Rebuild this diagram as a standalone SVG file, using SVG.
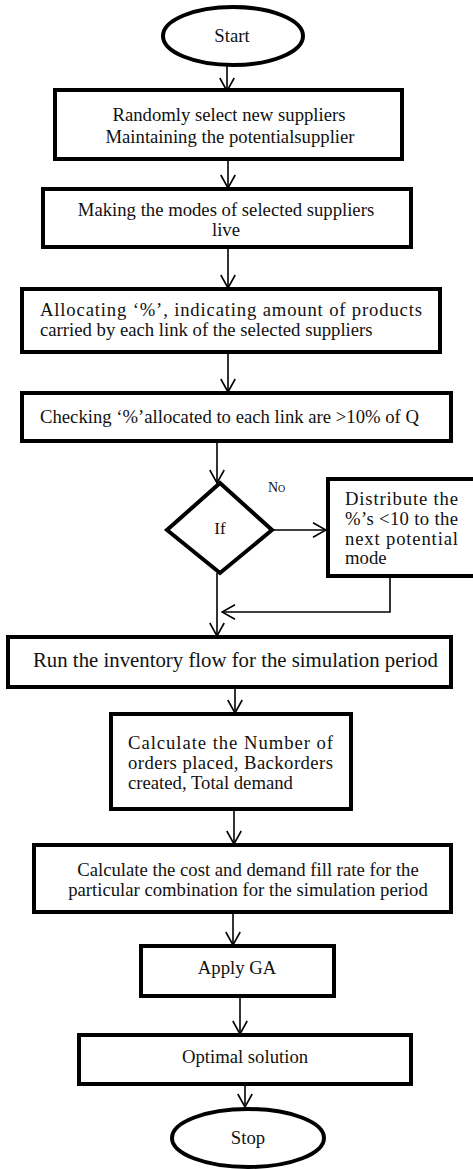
<svg xmlns="http://www.w3.org/2000/svg" width="473" height="1169" viewBox="0 0 473 1169">
<defs>
<style>
.box{fill:#fff;stroke:#000;stroke-width:4}
.t{font-family:"Liberation Serif","Times New Roman",serif;font-size:18.7px;fill:#111}
.m{text-anchor:middle}
.c{fill:none;stroke:#000;stroke-width:1.6}
</style>
<marker id="ah" viewBox="0 0 16 16" refX="15" refY="8" markerWidth="16" markerHeight="16" markerUnits="userSpaceOnUse" orient="auto">
<path d="M2,0.8 L15,8 L2,15.2" fill="none" stroke="#000" stroke-width="1.6"/>
</marker>
</defs>
<rect width="473" height="1169" fill="#fff"/>
<g id="connectors">
<line class="c" x1="227" y1="65" x2="227" y2="91" marker-end="url(#ah)"/>
<line class="c" x1="228" y1="160" x2="228" y2="188" marker-end="url(#ah)"/>
<line class="c" x1="228" y1="248" x2="228" y2="288" marker-end="url(#ah)"/>
<line class="c" x1="228" y1="353" x2="228" y2="392" marker-end="url(#ah)"/>
<line class="c" x1="217" y1="442" x2="217" y2="483" marker-end="url(#ah)"/>
<line class="c" x1="272" y1="530" x2="326" y2="530" marker-end="url(#ah)"/>
<line class="c" x1="217" y1="573" x2="217" y2="636" marker-end="url(#ah)"/>
<polyline class="c" points="390,577 390,612 222,612" marker-end="url(#ah)"/>
<line class="c" x1="235" y1="688" x2="235" y2="713" marker-end="url(#ah)"/>
<line class="c" x1="234" y1="810" x2="234" y2="844" marker-end="url(#ah)"/>
<line class="c" x1="233" y1="913" x2="233" y2="945" marker-end="url(#ah)"/>
<line class="c" x1="240" y1="997" x2="240" y2="1034" marker-end="url(#ah)"/>
<line class="c" x1="245" y1="1085" x2="245" y2="1107" marker-end="url(#ah)"/>
</g>
<g id="start">
<ellipse class="box" cx="233" cy="36" rx="70" ry="29"/>
<text class="t m" x="232" y="42">Start</text>
</g>
<g id="box1">
<rect class="box" x="55" y="90" width="347" height="69"/>
<text class="t m" x="229" y="121">Randomly select new suppliers</text>
<text class="t m" x="230" y="143">Maintaining the potentialsupplier</text>
</g>
<g id="box2">
<rect class="box" x="43" y="189" width="368" height="58"/>
<text class="t m" x="226" y="216">Making the modes of selected suppliers</text>
<text class="t m" x="226" y="236">live</text>
</g>
<g id="box3">
<rect class="box" x="22" y="289" width="418" height="63"/>
<text class="t" x="40" y="316" textLength="382" lengthAdjust="spacing">Allocating ‘%’, indicating amount of products</text>
<text class="t" x="40" y="336">carried by each link of the selected suppliers</text>
</g>
<g id="box4">
<rect class="box" x="22" y="393" width="429" height="48"/>
<text class="t" x="40" y="423">Checking ‘%’allocated to each link are &gt;10% of Q</text>
</g>
<g id="decision">
<polygon class="box" points="220,483 272,530 220,573 167,530"/>
<text class="t m" x="220" y="534" style="font-size:17px">If</text>
<text class="t" x="268" y="492" style="font-size:14px;font-variant:small-caps">No</text>
</g>
<g id="box5">
<rect class="box" x="328" y="479" width="160" height="97"/>
<text class="t" x="345" y="505" textLength="113" lengthAdjust="spacing">Distribute the</text>
<text class="t" x="345" y="525" textLength="113" lengthAdjust="spacing">%’s &lt;10 to the</text>
<text class="t" x="345" y="545" textLength="113" lengthAdjust="spacing">next potential</text>
<text class="t" x="345" y="564">mode</text>
</g>
<g id="box6">
<rect class="box" x="8" y="637" width="443" height="50"/>
<text class="t" x="33" y="667" style="font-size:20.8px">Run the inventory flow for the simulation period</text>
</g>
<g id="box7">
<rect class="box" x="111" y="714" width="240" height="95"/>
<text class="t" x="128" y="749" textLength="205" lengthAdjust="spacing">Calculate the Number of</text>
<text class="t" x="128" y="769" textLength="205" lengthAdjust="spacing">orders placed, Backorders</text>
<text class="t" x="128" y="789">created, Total demand</text>
</g>
<g id="box8">
<rect class="box" x="34" y="845" width="417" height="67"/>
<text class="t m" x="248" y="876">Calculate the cost and demand fill rate for the</text>
<text class="t m" x="248" y="896">particular combination for the simulation period</text>
</g>
<g id="box9">
<rect class="box" x="141" y="946" width="193" height="50"/>
<text class="t m" x="237" y="974">Apply GA</text>
</g>
<g id="box10">
<rect class="box" x="79" y="1035" width="332" height="49"/>
<text class="t m" x="245" y="1063">Optimal solution</text>
</g>
<g id="stop">
<ellipse class="box" cx="248" cy="1138" rx="76" ry="29"/>
<text class="t m" x="248" y="1144">Stop</text>
</g>
</svg>
